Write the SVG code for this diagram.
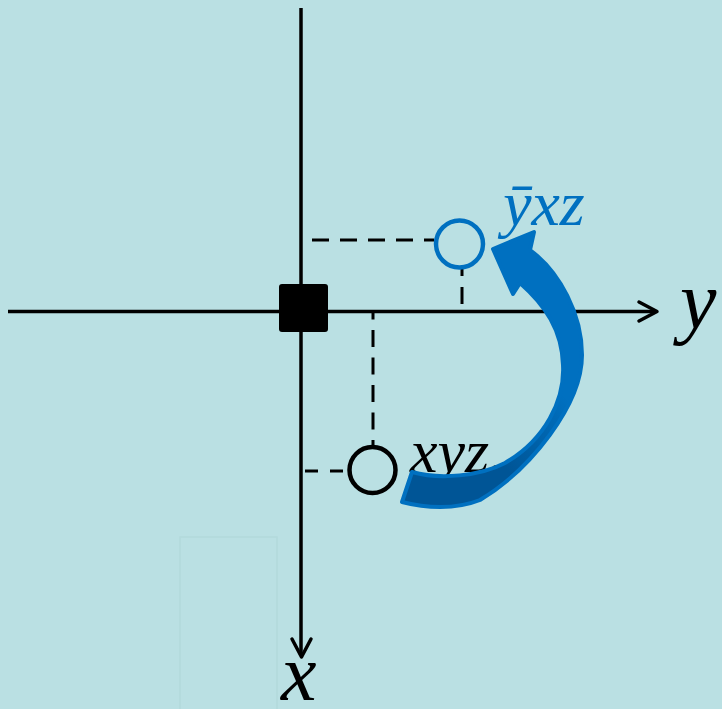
<svg xmlns="http://www.w3.org/2000/svg" width="722" height="709" viewBox="0 0 722 709">
  <style>
    .axis { stroke: #000; stroke-width: 3.5; fill: none; }
    .head { stroke: #000; stroke-width: 3.5; fill: none; stroke-linecap: round; stroke-linejoin: round; }
    .dash { stroke: #000; stroke-width: 3; fill: none; }
  </style>
  <defs>
    <linearGradient id="arrGrad" gradientUnits="userSpaceOnUse" x1="568" y1="400" x2="505" y2="468">
      <stop offset="0" stop-color="#0070C0"/>
      <stop offset="1" stop-color="#005596"/>
    </linearGradient>
  </defs>
  <rect width="722" height="709" fill="#BAE0E3"/>
  <path d="M180,709 V537 H277 V709" fill="none" stroke="#B3D9DC" stroke-width="1.5"/>

  <g id="connectors">
    <line class="axis" x1="8" y1="311.5" x2="655" y2="311.5"/>
    <polyline class="head" points="639,302 657,311.5 639,321"/>
    <line class="axis" x1="301" y1="8" x2="301" y2="655"/>
    <polyline class="head" points="292,639 301.5,657 311,639"/>
    <line class="dash" x1="312" y1="240" x2="434" y2="240" stroke-dasharray="17 11"/>
    <line class="dash" x1="462" y1="304" x2="462" y2="268" stroke-dasharray="17 11"/>
    <line class="dash" x1="373" y1="312" x2="373" y2="446" stroke-dasharray="17 10.5" stroke-dashoffset="9.5"/>
    <line class="dash" x1="302" y1="471" x2="349" y2="471" stroke-dasharray="13 12" stroke-dashoffset="-3"/>
  </g>

  <g id="origin">
    <rect x="279" y="284" width="49" height="48" rx="3" fill="#000"/>
  </g>

  <g id="node-ybar">
    <circle cx="459.5" cy="244" r="23.5" fill="none" stroke="#0070C0" stroke-width="4.5"/>
    <text x="503" y="225" font-family="'Liberation Serif', 'DejaVu Serif', serif" font-style="italic" font-size="64" fill="#0070C0">ȳxz</text>
  </g>

  <g id="node-xyz">
    <circle cx="372.5" cy="470" r="23" fill="none" stroke="#000" stroke-width="4.5"/>
    <text x="410" y="472" font-family="'Liberation Serif', 'DejaVu Serif', serif" font-style="italic" font-size="62" fill="#000">xyz.</text>
  </g>

  <g id="rotation-arrow">
    <path d="M493,249 L534,232 L530,250 C560,272 582,315 582,355 C582,405 530,470 480,500 C455,510 425,508 402,502 L412,472 C440,480 480,476 505,463 C545,440 565,400 563,365 C562,330 545,305 520,283 L513,294 Z" fill="url(#arrGrad)" stroke="#0070C0" stroke-width="4" stroke-linejoin="round"/>
  </g>

  <g id="axis-labels">
    <text x="680" y="328" font-family="'Liberation Serif', 'DejaVu Serif', serif" font-style="italic" font-size="82" fill="#000">y</text>
    <text x="281" y="700" font-family="'Liberation Serif', 'DejaVu Serif', serif" font-style="italic" font-size="80" fill="#000">x</text>
  </g>
</svg>
